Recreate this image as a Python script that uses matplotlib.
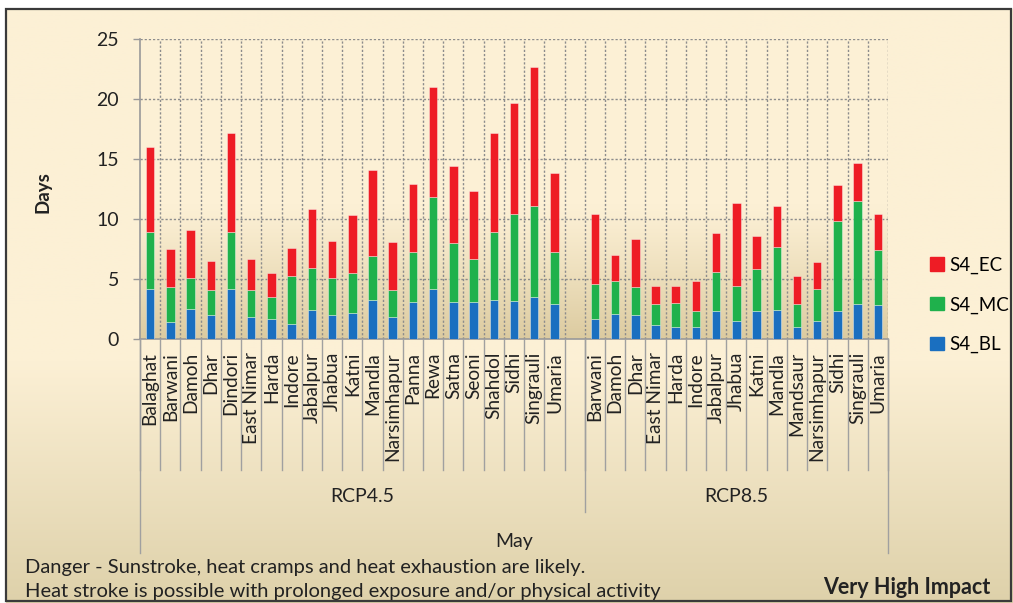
import numpy as np
import matplotlib
matplotlib.use('Agg')
import matplotlib.pyplot as plt
from matplotlib.transforms import blended_transform_factory
from matplotlib.lines import Line2D
from matplotlib.patches import Patch, Rectangle

plt.rcParams['font.family'] = ['Lato', 'DejaVu Sans']

# districts for each scenario
rcp45_names = ['Balaghat', 'Barwani', 'Damoh', 'Dhar', 'Dindori', 'East Nimar', 'Harda',
               'Indore', 'Jabalpur', 'Jhabua', 'Katni', 'Mandla', 'Narsimhapur', 'Panna',
               'Rewa', 'Satna', 'Seoni', 'Shahdol', 'Sidhi', 'Singrauli', 'Umaria']
rcp85_names = ['Barwani', 'Damoh', 'Dhar', 'East Nimar', 'Harda', 'Indore', 'Jabalpur',
               'Jhabua', 'Katni', 'Mandla', 'Mandsaur', 'Narsimhapur', 'Sidhi', 'Singrauli',
               'Umaria']

# stacked segments (days)
rcp45_bl = [4.2, 1.4, 2.5, 2.0, 4.2, 1.8, 1.7, 1.25, 2.4, 2.0, 2.2, 3.25, 1.8, 3.1,
            4.2, 3.1, 3.1, 3.25, 3.15, 3.5, 2.9]
rcp45_mc = [4.7, 2.9, 2.6, 2.1, 4.7, 2.3, 1.8, 4.0, 3.5, 3.05, 3.3, 3.7, 2.3, 4.15,
            7.6, 4.9, 3.6, 5.7, 7.25, 7.6, 4.35]
rcp45_ec = [7.1, 3.2, 4.0, 2.4, 8.3, 2.6, 2.0, 2.35, 4.9, 3.1, 4.8, 7.1, 3.95, 5.7,
            9.2, 6.4, 5.6, 8.25, 9.3, 11.55, 6.55]

rcp85_bl = [1.7, 2.1, 2.0, 1.15, 1.0, 1.0, 2.3, 1.5, 2.3, 2.45, 1.0, 1.5, 2.35, 2.9, 2.85]
rcp85_mc = [2.85, 2.7, 2.3, 1.75, 2.0, 1.3, 3.3, 2.95, 3.5, 5.25, 1.95, 2.7, 7.45, 8.6, 4.6]
rcp85_ec = [5.85, 2.2, 4.0, 1.55, 1.45, 2.55, 3.25, 6.9, 2.8, 3.4, 2.3, 2.2, 3.0, 3.2, 2.95]

W, H = 1013, 603
fig = plt.figure(figsize=(W / 100, H / 100), dpi=100)

# background gradient for the whole chart
bg = fig.add_axes([0, 0, 1, 1], zorder=-10)
bg.set_axis_off()
cream = np.array([252, 240, 213]) / 255
tan = np.array([222, 209, 170]) / 255
t = np.linspace(0, 1, 300)
w = np.clip((t - 0.6) / 0.4, 0, 1)
grad = cream[None, :] * (1 - w[:, None]) + tan[None, :] * w[:, None]
bg.imshow(np.repeat(grad[:, None, :], 2, axis=1), aspect='auto', extent=[0, 1, 0, 1])
bg.set_xlim(0, 1)
bg.set_ylim(0, 1)
# frame: white margin on top/left, dark border
bg.add_patch(Rectangle((0, 1 - 9 / H), 1, 9 / H, facecolor='white', edgecolor='none'))
bg.add_patch(Rectangle((0, 0), 6 / W, 1, facecolor='white', edgecolor='none'))
bg.add_patch(Rectangle((6 / W, 2 / H), 1 - 8 / W, 1 - 11 / H, facecolor='none',
                       edgecolor='#3a3a3a', lw=1.6))

L, R, B, T = 140, 888, 339, 39
ax = fig.add_axes([L / W, 1 - B / H, (R - L) / W, (B - T) / H])
ax.set_facecolor('none')

# plot-area gradient
pg = np.linspace(0, 1, 300)
pw = np.clip((pg - 0.55) / 0.45, 0, 1) ** 1.2
ptan = np.array([220, 203, 160]) / 255
pgrad = cream[None, :] * (1 - pw[:, None]) + ptan[None, :] * pw[:, None]

n45, n85 = len(rcp45_names), len(rcp85_names)
x45 = np.arange(n45)
x85 = np.arange(n85) + n45 + 1
nslots = n45 + 1 + n85
ax.imshow(np.repeat(pgrad[:, None, :], 2, axis=1), aspect='auto',
          extent=[-0.5, nslots - 0.5, 0, 25], zorder=0)

red, green, blue = '#ee1c25', '#1fb14c', '#1a6fc0'
edge = (1, 1, 1, 0.45)
bw = 0.42
for xs, bl, mc, ec in [(x45, rcp45_bl, rcp45_mc, rcp45_ec), (x85, rcp85_bl, rcp85_mc, rcp85_ec)]:
    bl, mc, ec = np.array(bl), np.array(mc), np.array(ec)
    ax.bar(xs, bl, bw, color=blue, edgecolor=edge, lw=0.6, zorder=3)
    ax.bar(xs, mc, bw, bottom=bl, color=green, edgecolor=edge, lw=0.6, zorder=3)
    ax.bar(xs, ec, bw, bottom=bl + mc, color=red, edgecolor=edge, lw=0.6, zorder=3)

ax.set_xlim(-0.5, nslots - 0.5)
ax.set_ylim(0, 25)
ax.set_yticks(range(0, 26, 5))
ax.tick_params(axis='y', length=5, width=1, color='#999999', labelsize=14,
               labelcolor='#222222', pad=10)
ax.set_xticks([])
for s in ['top', 'right']:
    ax.spines[s].set_visible(False)
for s in ['left', 'bottom']:
    ax.spines[s].set_color('#999999')
    ax.spines[s].set_linewidth(1.2)

grid_kw = dict(color='#8c8c8c', lw=1, ls=(0, (1.6, 1.4)), zorder=1)
for yv in range(5, 26, 5):
    ax.axhline(yv, **grid_kw)
for xb in np.arange(0.5, nslots, 1.0):
    ax.axvline(xb, **grid_kw)

# multi-level category axis
tr = blended_transform_factory(ax.transData, fig.transFigure)
def fy(py):
    return 1 - py / H

for xb in np.arange(-0.5, nslots, 1.0):
    fig.add_artist(Line2D([xb, xb], [fy(B), fy(470)], transform=tr, color='#a0a0a0', lw=1))
for xb, bot in [(-0.5, 553), (n45 + 0.5, 512), (nslots - 0.5, 553)]:
    fig.add_artist(Line2D([xb, xb], [fy(B), fy(bot)], transform=tr, color='#a0a0a0', lw=1))

for xs, names in [(x45, rcp45_names), (x85, rcp85_names)]:
    for xv, nm in zip(xs, names):
        fig.text(xv, fy(352), nm, transform=tr, rotation=90, ha='center', va='top',
                 fontsize=13.8, color='#222222')

fig.text((-0.5 + n45 + 0.5) / 2, fy(497), 'RCP4.5', transform=tr, ha='center', va='center',
         fontsize=14, color='#222222')
fig.text((n45 + 0.5 + nslots - 0.5) / 2, fy(497), 'RCP8.5', transform=tr, ha='center',
         va='center', fontsize=14, color='#222222')
fig.text((nslots - 1) / 2, fy(541), 'May', transform=tr, ha='center', va='center',
         fontsize=14, color='#222222')

fig.text(43 / W, fy(192), 'Days', rotation=90, ha='center', va='center', fontsize=13.5,
         fontweight='bold', color='#222222')

handles = [Patch(color=red, label='S4_EC'), Patch(color=green, label='S4_MC'),
           Patch(color=blue, label='S4_BL')]
fig.legend(handles=handles, loc='center left', bbox_to_anchor=(921 / W, fy(305)),
           frameon=False, fontsize=13.5, handlelength=0.7, handleheight=0.7,
           handletextpad=0.3, labelspacing=1.2, borderpad=0)

fig.text(25 / W, fy(568), 'Danger - Sunstroke, heat cramps and heat exhaustion are likely.',
         ha='left', va='center', fontsize=14.5, color='#222222')
fig.text(25 / W, fy(592), 'Heat stroke is possible with prolonged exposure and/or physical activity',
         ha='left', va='center', fontsize=14.5, color='#222222')
fig.text(990 / W, fy(587), 'Very High Impact', ha='right', va='center', fontsize=15.5,
         fontweight='bold', color='#222222')

fig.savefig('out.png', dpi=100)
